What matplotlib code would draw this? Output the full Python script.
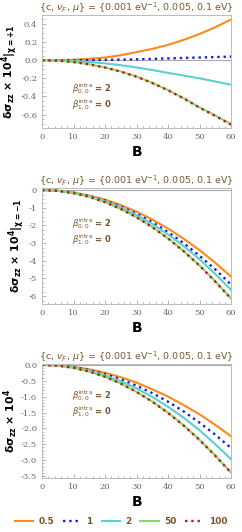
import numpy as np
import matplotlib
matplotlib.use('Agg')
import matplotlib.pyplot as plt
from matplotlib.ticker import MultipleLocator

B = [0, 5, 10, 15, 20, 25, 30, 35, 40, 45, 50, 55, 60]
labels = ['0.5', '1', '2', '50', '100']

# chi = +1
p1 = {
    '0.5': [0, 0.001, 0.005, 0.015, 0.03, 0.055, 0.09, 0.125, 0.17, 0.225, 0.29, 0.365, 0.45],
    '1':   [0, 0.0, 0.001, 0.002, 0.004, 0.007, 0.01, 0.015, 0.02, 0.025, 0.03, 0.035, 0.04],
    '2':   [0, -0.002, -0.008, -0.02, -0.035, -0.055, -0.08, -0.108, -0.14, -0.17, -0.2, -0.235, -0.27],
    '50':  [0, -0.005, -0.02, -0.045, -0.08, -0.125, -0.18, -0.25, -0.33, -0.42, -0.52, -0.61, -0.705],
    '100': [0, -0.005, -0.02, -0.046, -0.081, -0.126, -0.182, -0.252, -0.332, -0.423, -0.524, -0.615, -0.712],
}
# chi = -1
p2 = {
    '0.5': [0, -0.034, -0.136, -0.31, -0.54, -0.85, -1.22, -1.67, -2.18, -2.76, -3.40, -4.12, -4.9],
    '1':   [0, -0.037, -0.149, -0.33, -0.59, -0.93, -1.34, -1.82, -2.38, -3.01, -3.72, -4.49, -5.35],
    '2':   [0, -0.039, -0.157, -0.35, -0.63, -0.98, -1.41, -1.92, -2.51, -3.18, -3.92, -4.75, -5.65],
    '50':  [0, -0.043, -0.171, -0.38, -0.68, -1.07, -1.54, -2.09, -2.73, -3.46, -4.27, -5.17, -6.13],
    '100': [0, -0.043, -0.172, -0.385, -0.685, -1.07, -1.54, -2.10, -2.74, -3.47, -4.28, -5.18, -6.15],
}
# total
p3 = {
    '0.5': [0, -0.016, -0.063, -0.14, -0.25, -0.39, -0.56, -0.77, -1.0, -1.27, -1.56, -1.89, -2.25],
    '1':   [0, -0.018, -0.073, -0.165, -0.29, -0.455, -0.655, -0.89, -1.16, -1.47, -1.82, -2.2, -2.62],
    '2':   [0, -0.021, -0.083, -0.186, -0.33, -0.515, -0.74, -1.01, -1.32, -1.67, -2.06, -2.5, -2.97],
    '50':  [0, -0.024, -0.094, -0.212, -0.377, -0.59, -0.85, -1.156, -1.51, -1.91, -2.36, -2.86, -3.39],
    '100': [0, -0.024, -0.095, -0.213, -0.378, -0.59, -0.852, -1.16, -1.515, -1.915, -2.365, -2.865, -3.40],
}

colors = {'0.5': '#ff8a1c', '1': '#1a1adc', '2': '#5ccfcf', '50': '#7fdc6f', '100': '#c81414'}
styles = {'0.5': '-', '1': ':', '2': '-', '50': '-', '100': ':'}
brown = '#7a5630'
gray = '#666666'
title = r'{c, $v_F$, $\mu$} = {0.001 eV$^{-1}$, 0.005, 0.1 eV}'

fig = plt.figure(figsize=(2.42, 5.32), dpi=100)
panels = [
    (p1, [0.174, 0.759, 0.781, 0.213], (-0.75, 0.5), 0.2, 0.05,
     r'$\mathbf{\delta\sigma_{zz}}$ × 10$^\mathbf{4}$$\mathbf{|_{\chi=+1}}$', (0.35, 0.21), '%.1f'),
    (p2, [0.174, 0.429, 0.781, 0.218], (-6.43, 0.13), 1, 0.25,
     r'$\mathbf{\delta\sigma_{zz}}$ × 10$^\mathbf{4}$$\mathbf{|_{\chi=-1}}$', (0.69, 0.55), '%d'),
    (p3, [0.174, 0.1015, 0.781, 0.2145], (-3.56, 0.03), 0.5, 0.1,
     r'$\mathbf{\delta\sigma_{zz}}$ × 10$^\mathbf{4}$', (0.72, 0.58), '%.1f'),
]

for data, rect, ylim, major, minor, ylab, tpos, fmt in panels:
    ax = fig.add_axes(rect)
    ax.axhline(0, color='#aaaaaa', lw=0.8, zorder=0)
    for lab in labels:
        ax.plot(B, data[lab], color=colors[lab], ls=styles[lab], lw=1.5 if styles[lab] == '-' else 1.7,
                label=lab)
    ax.set_xlim(0, 60)
    ax.set_ylim(*ylim)
    ax.xaxis.set_major_locator(MultipleLocator(10))
    ax.xaxis.set_minor_locator(MultipleLocator(2))
    ax.yaxis.set_major_locator(MultipleLocator(major))
    ax.yaxis.set_minor_locator(MultipleLocator(minor))
    ax.yaxis.set_major_formatter(matplotlib.ticker.FormatStrFormatter(fmt))
    ax.tick_params(which='both', direction='in', colors='#999999', labelcolor=gray,
                   labelsize=6, labelfontfamily='DejaVu Serif', width=0.5)
    ax.tick_params(which='major', length=3)
    ax.tick_params(which='minor', length=1.5)
    for s in ax.spines.values():
        s.set_color('#bbbbbb')
        s.set_linewidth(0.7)
    ax.set_title(title, color=brown, fontsize=6.8, pad=3)
    ax.set_xlabel('B', fontsize=10, fontweight='bold', labelpad=3)
    ax.set_ylabel(ylab, fontsize=7.8, fontweight='bold', labelpad=1)
    ax.text(0.16, tpos[0], r'$\beta_{0,0}^{\rm intra}$ = 2', transform=ax.transAxes,
            color=brown, fontsize=6, va='center', fontweight='bold')
    ax.text(0.16, tpos[1], r'$\beta_{1,0}^{\rm intra}$ = 0', transform=ax.transAxes,
            color=brown, fontsize=6, va='center', fontweight='bold')

handles, labs = ax.get_legend_handles_labels()
leg = fig.legend(handles, labs, loc='center', bbox_to_anchor=(0.5, 0.019), ncol=5,
                 frameon=False, fontsize=6.5, handlelength=2.0, handletextpad=0.6,
                 columnspacing=1.0)
for t in leg.get_texts():
    t.set_color(brown)
    t.set_fontweight('bold')

fig.savefig('out.png', dpi=100)
